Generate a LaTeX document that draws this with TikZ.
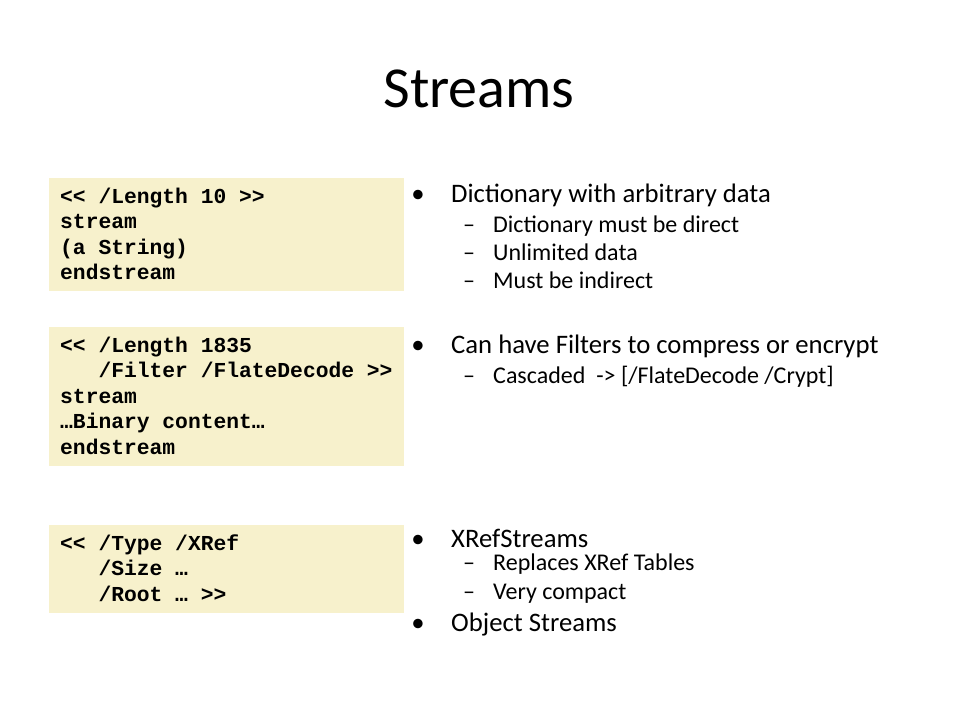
\documentclass[tikz,border=0pt]{standalone}
\usepackage{fontspec}
\setmainfont{Carlito}
\setmonofont{Liberation Mono}
\definecolor{fondocodigo}{RGB}{247,241,204}
\tikzset{
  caja/.style={fill=fondocodigo},
  codigo/.style={font=\fontsize{21.3}{25.6}\selectfont\ttfamily\bfseries, anchor=base west, inner sep=0pt},
  vineta/.style={font=\fontsize{26.7}{32}\selectfont, anchor=base west, inner sep=0pt},
  subvineta/.style={font=\fontsize{24}{29}\selectfont, anchor=base west, inner sep=0pt},
}
\begin{document}
\begin{tikzpicture}[x=1pt,y=-1pt]
  % Lienzo
  \useasboundingbox (0,0) rectangle (960,720);

  % Titulo
  \node[font=\fontsize{58}{70}\selectfont, anchor=base, inner sep=0pt] (titulo) at (479,107) {Streams};

  % Cajas de codigo
  \fill[caja] (49,178) rectangle (404,291);
  \fill[caja] (49,327) rectangle (404,466);
  \fill[caja] (49,525) rectangle (404,613);

  % Codigo
  \foreach \t [count=\i] in {{<< /Length 10 >>}, stream, {(a String)}, endstream}
    \node[codigo] (a\i) at (60,{203+25.6*(\i-1)}) {\t};
  \foreach \t [count=\i] in {{<< /Length 1835}, {\hphantom{<<\ }/Filter /FlateDecode >>}, stream, {…Binary content…}, endstream}
    \node[codigo] (b\i) at (60,{352+25.6*(\i-1)}) {\t};
  \foreach \t [count=\i] in {{<< /Type /XRef}, {\hphantom{<<\ }/Size …}, {\hphantom{<<\ }/Root … >>}}
    \node[codigo] (c\i) at (60,{550+25.6*(\i-1)}) {\t};

  % Vinetas
  \foreach \y/\t [count=\i] in {202/{Dictionary with arbitrary data}, 353/{Can have Filters to compress or encrypt}, 547/{XRefStreams}, 631/{Object Streams}} {
    \node[vineta] (p\i) at (451,\y) {\t};
    \node[vineta, anchor=base] (pp\i) at (418,\y) {•};
  }
  \foreach \y/\t [count=\i] in {232/{Dictionary must be direct}, 260/{Unlimited data}, 288/{Must be indirect}, 383/{Cascaded~ -> [/FlateDecode /Crypt]}, 570/{Replaces XRef Tables}, 599/{Very compact}} {
    \node[subvineta] (s\i) at (493,\y) {\t};
    \node[subvineta] (ss\i) at (463,\y) {–};
  }
\end{tikzpicture}
\end{document}
